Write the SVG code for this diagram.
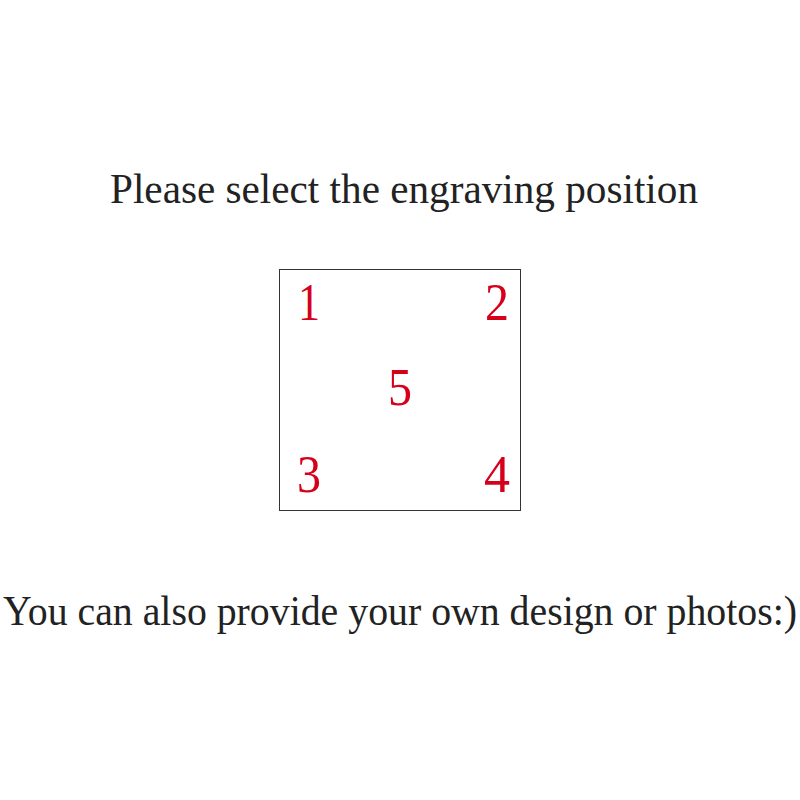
<svg xmlns="http://www.w3.org/2000/svg" width="800" height="800" viewBox="0 0 800 800">
<style>
.t{font-family:"Liberation Serif","DejaVu Serif",serif;font-size:43px;fill:#222}
.n{font-family:"Liberation Serif","DejaVu Serif",serif;font-size:52px;fill:#d7001b;text-anchor:middle}
</style>
<rect width="800" height="800" fill="#fff"/>
<text class="t" x="110" y="203" textLength="588" lengthAdjust="spacingAndGlyphs">Please select the engraving position</text>
<g id="box"><rect x="279.5" y="269.5" width="241" height="241" fill="none" stroke="#333" stroke-width="1"/></g>
<g id="n1"><text class="n" x="309" y="320" textLength="22" lengthAdjust="spacingAndGlyphs">1</text></g>
<g id="n2"><text class="n" x="497" y="320" textLength="24" lengthAdjust="spacingAndGlyphs">2</text></g>
<g id="n5"><text class="n" x="400" y="405" textLength="24" lengthAdjust="spacingAndGlyphs">5</text></g>
<g id="n3"><text class="n" x="309" y="492" textLength="24" lengthAdjust="spacingAndGlyphs">3</text></g>
<g id="n4"><text class="n" x="497" y="492" textLength="26" lengthAdjust="spacingAndGlyphs">4</text></g>
<text class="t" style="font-size:38px" transform="translate(3,625) scale(1,1.13)" x="0" y="0" textLength="794" lengthAdjust="spacingAndGlyphs">You can also provide your own design or photos:)</text>
</svg>
